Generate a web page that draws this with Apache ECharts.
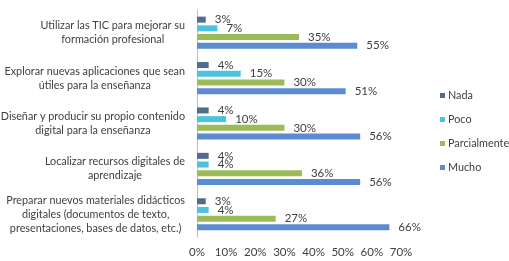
<!DOCTYPE html>
<html>
<head>
<meta charset="utf-8">
<script src="https://cdn.jsdelivr.net/npm/echarts@6/dist/echarts.min.js"></script>
<style>
  html, body { margin: 0; padding: 0; background: #fff; }
  #chart { width: 509px; height: 261px; }
</style>
</head>
<body>
<div id="chart"></div>
<script>
// categorias (de arriba a abajo)
var categories = [
  'Utilizar las TIC para mejorar su\nformación profesional',
  'Explorar nuevas aplicaciones que sean\nútiles para la enseñanza',
  'Diseñar y producir su propio contenido\ndigital para la enseñanza',
  'Localizar recursos digitales de\naprendizaje',
  'Preparar nuevos materiales didácticos\ndigitales (documentos de texto,\npresentaciones, bases de datos, etc.)'
];
var seriesNames = ['Nada', 'Poco', 'Parcialmente', 'Mucho'];
var nada = [3, 4, 4, 4, 3];
var poco = [7, 15, 10, 4, 4];
var parcialmente = [35, 30, 30, 36, 27];
var mucho = [55, 51, 56, 56, 66];
var xTicks = [0, 10, 20, 30, 40, 50, 60, 70];

var colors = ['#4f6d8f', '#4bc3df', '#9bbb59', '#5b8bd0'];
var seriesData = [nada, poco, parcialmente, mucho];
var font = 'Lato';

var chart = echarts.init(document.getElementById('chart'));

var series = seriesNames.map(function (name, i) {
  return {
    name: name,
    type: 'bar',
    data: seriesData[i],
    barWidth: 6,
    barGap: '45%',
    itemStyle: { color: colors[i] },
    label: {
      show: true,
      position: 'right',
      distance: 9,
      formatter: '{c}%',
      color: '#404040',
      fontFamily: font,
      fontSize: 11.5
    }
  };
});

chart.setOption({
  animation: false,
  color: colors,
  grid: { left: 197, right: 108, top: 10, bottom: 24, outerBoundsMode: 'none' },
  legend: {
    orient: 'vertical',
    left: 435,
    top: 85,
    itemWidth: 5,
    itemHeight: 5,
    itemGap: 13,
    icon: 'rect',
    data: seriesNames,
    textStyle: { color: '#404040', fontFamily: font, fontSize: 10.8, padding: [0, 0, 0, -2] }
  },
  xAxis: {
    type: 'value',
    min: xTicks[0],
    max: xTicks[xTicks.length - 1],
    interval: 10,
    axisLine: { show: false },
    axisTick: { show: false },
    splitLine: { show: false },
    axisLabel: {
      formatter: '{value}%',
      color: '#404040',
      fontFamily: font,
      fontSize: 11.5,
      margin: 9
    }
  },
  yAxis: {
    type: 'category',
    inverse: true,
    data: categories,
    axisLine: { show: true, lineStyle: { color: '#bfbfbf' } },
    axisTick: { show: false },
    axisLabel: {
      margin: 12,
      color: '#404040',
      fontFamily: font,
      fontSize: 10.8,
      lineHeight: 14,
      formatter: function (v) {
        return v.split('\n').map(function (l) { return '{c|' + l + '}'; }).join('\n');
      },
      rich: {
        c: { align: 'center', color: '#404040', fontFamily: font, fontSize: 10.8, lineHeight: 14 }
      }
    }
  },
  series: series
});
</script>
</body>
</html>
